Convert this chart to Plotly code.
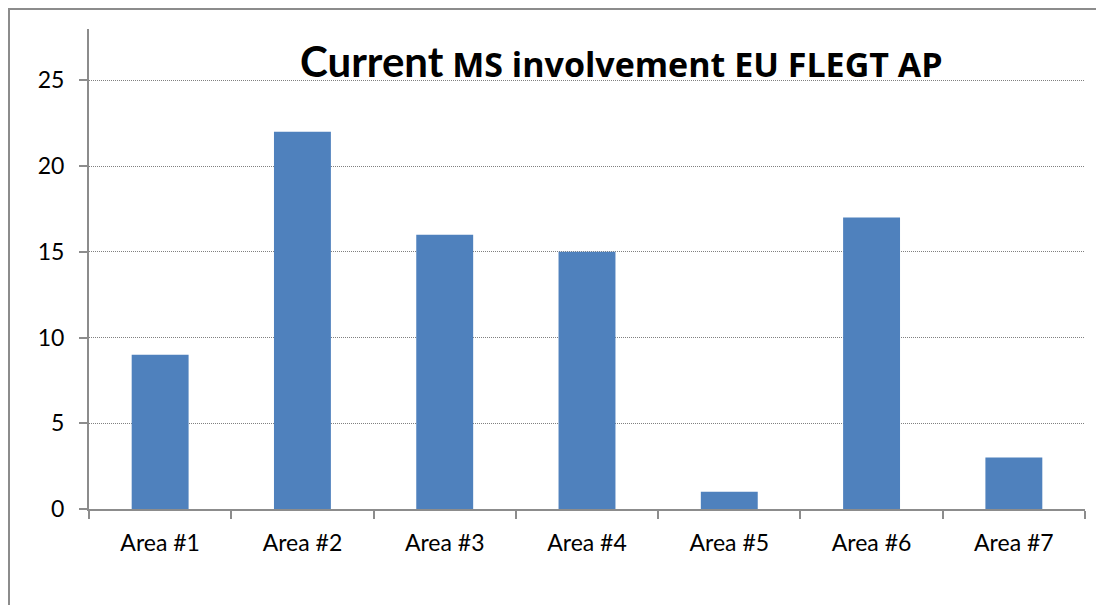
import plotly.graph_objects as go

categories = ["Area #1", "Area #2", "Area #3", "Area #4", "Area #5", "Area #6", "Area #7"]
values = [9, 22, 16, 15, 1, 17, 3]
y_ticks = [0, 5, 10, 15, 20, 25]
title_big = "Current"
title_rest = "MS involvement EU FLEGT AP"

OFF = 8  # page body margin
W, H = 1104, 605
# target plot area in screen pixels
SX0, SX1, SY0, SY1 = 89, 1085, 29, 509
L, T = SX0 - OFF, SY0 - OFF
R = W - (SX1 - OFF)
B = H - (SY1 - OFF)
pw, ph = SX1 - SX0, SY1 - SY0

def px_x(x):
    return (x - SX0) / pw

def px_y(y):
    return (SY1 - y) / ph

fig = go.Figure(go.Bar(
    x=categories, y=values,
    marker=dict(color="#4F81BD", line=dict(width=0)),
))

fig.update_layout(
    width=W, height=H,
    margin=dict(l=L, r=R, t=T, b=B, autoexpand=False),
    paper_bgcolor="white", plot_bgcolor="white",
    bargap=0.6,
    showlegend=False,
    font=dict(family="Lato", size=23, color="black"),
    xaxis=dict(
        showline=True, linecolor="#8C8C8C", linewidth=2,
        ticks="outside", ticklen=8, tickcolor="#8C8C8C", tickwidth=2,
        tickson="boundaries", showgrid=False,
        ticklabelstandoff=12,
        tickfont=dict(family="Lato", size=23, color="black"),
    ),
    yaxis=dict(
        range=[0, 28], tickvals=y_ticks,
        showline=True, linecolor="#8C8C8C", linewidth=2,
        ticks="outside", ticklen=8, tickcolor="#8C8C8C", tickwidth=2,
        showgrid=True, gridcolor="#808080", gridwidth=1, griddash="1px,1px",
        zeroline=False,
        ticklabelstandoff=10,
        tickfont=dict(family="Lato", size=23, color="black"),
    ),
    annotations=[dict(
        xref="paper", yref="paper",
        x=px_x(298), y=px_y(62), xanchor="left", yanchor="middle",
        showarrow=False,
        text=(f"<b><span style='font-size:42px;font-family:Lato'>{title_big}</span> "
              f"<span style='font-family:Open Sans'>{title_rest}</span></b>"),
        font=dict(family="Open Sans", size=34, color="black"),
    )],
    shapes=[
        dict(type="line", xref="paper", yref="paper", x0=px_x(OFF), x1=px_x(1120), y0=px_y(OFF + 1), y1=px_y(OFF + 1),
             line=dict(color="#8C8C8C", width=2)),
        dict(type="line", xref="paper", yref="paper", x0=px_x(OFF + 1), x1=px_x(OFF + 1), y0=px_y(OFF), y1=px_y(620),
             line=dict(color="#8C8C8C", width=2)),
    ],
)

fig.write_html("out.html")
